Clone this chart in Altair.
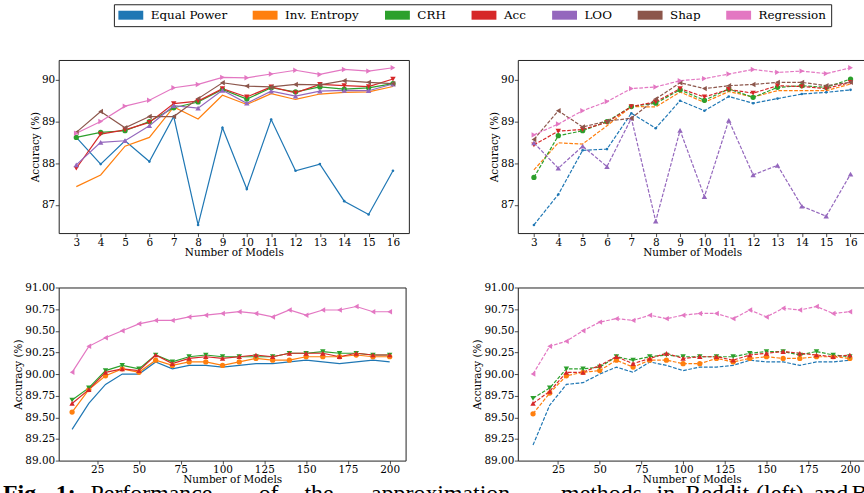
import altair as alt
import pandas as pd

methods = ["Equal Power", "Inv. Entropy", "CRH", "Acc", "LOO", "Shap", "Regression"]
colors = ["#1f77b4", "#ff7f0e", "#2ca02c", "#d62728", "#9467bd", "#8c564b", "#e377c2"]

n_top = list(range(3, 17))
n_bottom = list(range(10, 201, 10))

# ---- top-left panel ----
tl_equal_power = [88.62, 87.98, 88.54, 88.04, 89.12, 86.52, 88.85, 87.38, 89.05, 87.82, 87.98, 87.09, 86.77, 87.82]
tl_inv_entropy = [87.44, 87.72, 88.41, 88.62, 89.35, 89.06, 89.63, 89.41, 89.67, 89.53, 89.66, 89.70, 89.71, 89.84]
tl_crh = [88.62, 88.74, 88.78, 89.00, 89.33, 89.47, 89.77, 89.54, 89.81, 89.71, 89.83, 89.78, 89.81, 89.91]
tl_acc = [87.88, 88.70, 88.80, 88.98, 89.43, 89.49, 89.79, 89.59, 89.83, 89.69, 89.89, 89.86, 89.84, 90.02]
tl_loo = [87.96, 88.50, 88.54, 88.90, 89.38, 89.32, 89.75, 89.44, 89.73, 89.61, 89.73, 89.75, 89.74, 89.90]
tl_shap = [88.74, 89.24, 88.85, 89.12, 89.12, 89.55, 89.93, 89.85, 89.83, 89.89, 89.88, 89.98, 89.94, 89.91]
tl_regression = [88.72, 89.00, 89.37, 89.51, 89.81, 89.89, 90.06, 90.05, 90.14, 90.23, 90.13, 90.25, 90.21, 90.29]

# ---- top-right panel ----
tr_equal_power = [86.52, 87.25, 88.31, 88.34, 89.20, 88.84, 89.50, 89.26, 89.60, 89.44, 89.55, 89.66, 89.70, 89.76]
tr_inv_entropy = [87.84, 88.49, 88.46, 88.90, 89.36, 89.35, 89.71, 89.46, 89.72, 89.59, 89.74, 89.74, 89.74, 89.90]
tr_crh = [87.66, 88.66, 88.78, 89.00, 89.36, 89.44, 89.76, 89.51, 89.78, 89.58, 89.82, 89.86, 89.82, 90.02]
tr_acc = [88.44, 88.77, 88.81, 88.98, 89.36, 89.47, 89.79, 89.59, 89.77, 89.68, 89.86, 89.84, 89.79, 89.94]
tr_loo = [88.49, 87.88, 88.41, 87.92, 89.08, 86.61, 88.79, 87.20, 89.03, 87.72, 87.95, 86.97, 86.73, 87.74]
tr_shap = [88.57, 89.26, 88.87, 89.01, 89.08, 89.54, 89.93, 89.79, 89.86, 89.89, 89.94, 89.94, 89.86, 89.94]
tr_regression = [88.68, 88.94, 89.26, 89.48, 89.79, 89.83, 89.98, 90.03, 90.14, 90.25, 90.18, 90.21, 90.15, 90.29]

# ---- bottom-left panel ----
bl_equal_power = [89.36, 89.66, 89.88, 90.00, 90.00, 90.14, 90.06, 90.10, 90.10, 90.08, 90.10, 90.12, 90.12, 90.14, 90.16, 90.14, 90.12, 90.14, 90.16, 90.14]
bl_inv_entropy = [89.56, 89.82, 89.98, 90.06, 90.02, 90.16, 90.10, 90.14, 90.14, 90.10, 90.14, 90.18, 90.16, 90.16, 90.20, 90.20, 90.20, 90.22, 90.20, 90.20]
bl_crh = [89.70, 89.84, 90.04, 90.10, 90.06, 90.22, 90.14, 90.20, 90.22, 90.20, 90.20, 90.20, 90.20, 90.24, 90.24, 90.26, 90.24, 90.24, 90.22, 90.22]
bl_acc = [89.66, 89.82, 90.02, 90.06, 90.04, 90.22, 90.12, 90.18, 90.20, 90.18, 90.20, 90.22, 90.20, 90.24, 90.24, 90.24, 90.20, 90.24, 90.22, 90.22]
bl_regression = [90.02, 90.32, 90.42, 90.50, 90.58, 90.62, 90.62, 90.66, 90.68, 90.70, 90.72, 90.70, 90.66, 90.74, 90.68, 90.74, 90.74, 90.78, 90.72, 90.72]

# ---- bottom-right panel ----
br_equal_power = [89.18, 89.64, 89.88, 89.90, 90.00, 90.08, 90.02, 90.14, 90.10, 90.04, 90.08, 90.08, 90.10, 90.16, 90.14, 90.14, 90.10, 90.14, 90.14, 90.16]
br_inv_entropy = [89.54, 89.78, 89.98, 90.02, 90.04, 90.16, 90.08, 90.16, 90.16, 90.12, 90.12, 90.18, 90.14, 90.18, 90.20, 90.18, 90.18, 90.20, 90.20, 90.18]
br_crh = [89.72, 89.84, 90.06, 90.06, 90.08, 90.20, 90.16, 90.20, 90.22, 90.20, 90.20, 90.20, 90.20, 90.24, 90.26, 90.26, 90.22, 90.26, 90.22, 90.20]
br_acc = [89.66, 89.80, 90.02, 90.02, 90.10, 90.20, 90.12, 90.18, 90.24, 90.18, 90.20, 90.20, 90.16, 90.22, 90.24, 90.26, 90.24, 90.22, 90.20, 90.22]
br_regression = [90.00, 90.32, 90.38, 90.50, 90.60, 90.64, 90.62, 90.68, 90.64, 90.68, 90.70, 90.70, 90.64, 90.74, 90.66, 90.76, 90.74, 90.78, 90.70, 90.72]

top_ticks = n_top
bottom_ticks = [25, 50, 75, 100, 125, 150, 175, 200]
top_yticks = [87, 88, 89, 90]
bottom_yticks = [89.0, 89.25, 89.5, 89.75, 90.0, 90.25, 90.5, 90.75, 91.0]

caption_bold = ["Fig.", "1:"]
caption_words = ["Performance", "of", "the", "approximation", "methods", "in",
                 "Reddit", "(left)", "and", "Bi"]

# marker styles
top_markers = {"Equal Power": ("circle", 7), "CRH": ("circle", 28), "Acc": ("triangle-down", 30),
               "LOO": ("triangle-up", 30), "Shap": ("triangle-left", 30), "Regression": ("triangle-right", 30)}
bottom_markers = {"Inv. Entropy": ("circle", 28), "CRH": ("triangle-down", 30),
                  "Acc": ("triangle-up", 30), "Regression": ("triangle-left", 30)}

FONT = "DejaVu Serif"
CAP_FONT = "Liberation Serif"


def build_df(xs, series, markers):
    rows = []
    for m in methods:
        if m not in series:
            continue
        shape, size = markers.get(m, ("", 0))
        for x, y in zip(xs, series[m]):
            rows.append({"n": x, "acc": y, "method": m, "shape": shape, "msize": size})
    return pd.DataFrame(rows)


df_tl = build_df(n_top, {"Equal Power": tl_equal_power, "Inv. Entropy": tl_inv_entropy, "CRH": tl_crh,
                         "Acc": tl_acc, "LOO": tl_loo, "Shap": tl_shap, "Regression": tl_regression}, top_markers)
df_tr = build_df(n_top, {"Equal Power": tr_equal_power, "Inv. Entropy": tr_inv_entropy, "CRH": tr_crh,
                         "Acc": tr_acc, "LOO": tr_loo, "Shap": tr_shap, "Regression": tr_regression}, top_markers)
df_bl = build_df(n_bottom, {"Equal Power": bl_equal_power, "Inv. Entropy": bl_inv_entropy, "CRH": bl_crh,
                            "Acc": bl_acc, "Regression": bl_regression}, bottom_markers)
df_br = build_df(n_bottom, {"Equal Power": br_equal_power, "Inv. Entropy": br_inv_entropy, "CRH": br_crh,
                            "Acc": br_acc, "Regression": br_regression}, bottom_markers)

legend = alt.Legend(
    title=None, orient="none", legendX=55.5, legendY=-56, direction="horizontal", columns=7,
    symbolType="M-2.5,-0.9H2.5V0.9H-2.5Z", symbolSize=100, symbolStrokeWidth=0, symbolOpacity=1,
    symbolOffset=6, labelOffset=14,
    labelFont=FONT, labelFontSize=12, labelColor="black", columnPadding=25,
    padding=5, strokeColor="#222", fillColor="white", cornerRadius=0,
)
color = alt.Color("method:N", scale=alt.Scale(domain=methods, range=colors), legend=legend)


def anchor(x1, y1, y2):
    # invisible helper that fixes the drawing's outer extent
    return alt.Chart(pd.DataFrame({"a": [0]})).mark_rule(opacity=0, strokeWidth=1).encode(
        x=alt.value(x1), x2=alt.value(x1), y=alt.value(y1), y2=alt.value(y2))


def panel(df, xdomain, ydomain, width, xticks, yticks, yfmt, dashed, ytitle_x, xtitle_y, extra=None):
    base = alt.Chart(df)
    x = alt.X("n:Q", scale=alt.Scale(domain=xdomain, nice=False, zero=False),
              axis=alt.Axis(values=xticks, format="d", title="Number of Models",
                            titleY=xtitle_y, titleBaseline="middle"))
    y = alt.Y("acc:Q", scale=alt.Scale(domain=ydomain, nice=False, zero=False),
              axis=alt.Axis(values=yticks, format=yfmt, title="Accuracy (%)",
                            titleX=ytitle_x, titleY=87, titleBaseline="middle"))
    line_kw = {"strokeWidth": 1.2}
    if dashed:
        line_kw["strokeDash"] = [3.7, 1.6]
    line = base.mark_line(**line_kw).encode(x=x, y=y, color=color)
    pts = base.transform_filter("datum.shape != ''").mark_point(filled=True, opacity=1).encode(
        x=x, y=y, color=color,
        shape=alt.Shape("shape:N", scale=None),
        size=alt.Size("msize:Q", scale=None),
    )
    layers = [line, pts]
    if extra:
        layers += extra
    return alt.layer(*layers).properties(width=width, height=174)


# caption below the figure, cut by the frame like in the source image
cap_x_bold = [-56, -3]
cap_x = [32, 201, 247, 314, 505, 601, 630, 701, 759, 797]
cap_layers = []
for w, px in zip(caption_bold, cap_x_bold):
    cap_layers.append(alt.Chart(pd.DataFrame({"t": [w]})).mark_text(
        align="left", baseline="alphabetic", font=CAP_FONT, fontSize=24, fontWeight="bold", color="black"
    ).encode(x=alt.value(px), y=alt.value(215), text="t:N"))
for w, px in zip(caption_words, cap_x):
    cap_layers.append(alt.Chart(pd.DataFrame({"t": [w]})).mark_text(
        align="left", baseline="alphabetic", font=CAP_FONT, fontSize=24, color="black"
    ).encode(x=alt.value(px), y=alt.value(215), text="t:N"))

p1 = panel(df_tl, [2.277, 16.653], [86.325, 90.477], 352, top_ticks, top_yticks, "d", False, -23, 20,
           [anchor(-58, -58, -50)])
p2 = panel(df_tr, [2.338, 16.65], [86.325, 90.477], 350.4, top_ticks, top_yticks, "d", True, -23, 20)
p3 = panel(df_bl, [1.98, 209.52], [89.0, 91.0], 348.7, bottom_ticks, bottom_yticks, ".2f", False, -40.5, 19.5,
           cap_layers)
p4 = panel(df_br, [0.87, 209.5], [89.0, 91.0], 349.7, bottom_ticks, bottom_yticks, ".2f", True, -40.5, 19.5,
           [anchor(383.8, 0, 230.3)])

chart = alt.concat(
    p1, p2, p3, p4, columns=2,
    spacing=alt.RowColnumber(row=54.7, column=109.5),
    bounds="flush", align="none",
    padding={"left": 0, "top": 0, "right": -36.5, "bottom": -24.5},
).configure(
    background="white",
).configure_view(
    stroke="#222", strokeWidth=1,
).configure_axis(
    grid=False, domain=False, tickColor="#222", tickSize=3.5, tickWidth=0.8,
    labelFont=FONT, labelFontSize=10.5, labelColor="black", labelPadding=0.5,
    titleFont=FONT, titleFontSize=10.5, titleColor="black", titleFontWeight="normal",
)

chart.save("out.html", embed_options={"renderer": "svg", "actions": False})
